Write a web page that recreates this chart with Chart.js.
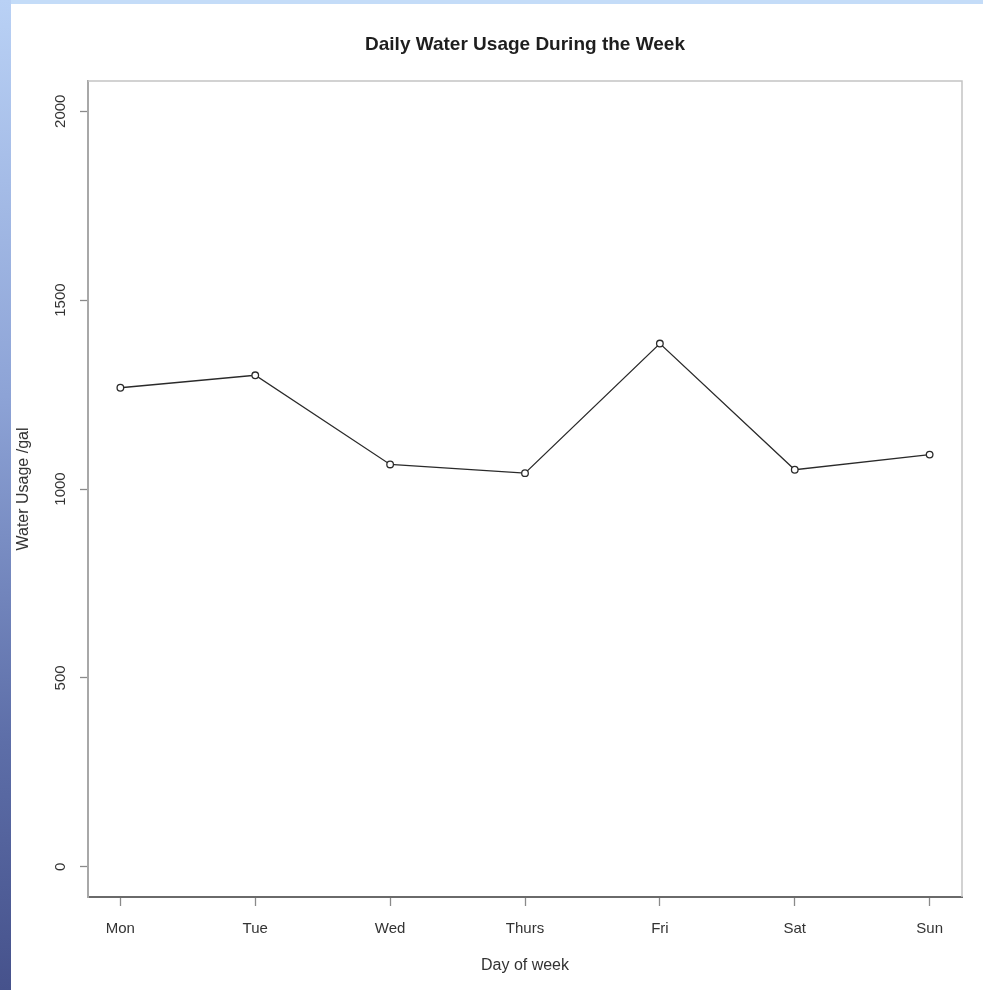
<!DOCTYPE html>
<html>
<head>
<meta charset="utf-8">
<script src="https://cdn.jsdelivr.net/npm/chart.js@4"></script>
<style>
  html, body { margin: 0; padding: 0; width: 983px; height: 990px; overflow: hidden; background: #ffffff; }
  #topstrip { position: absolute; left: 0; top: 0; width: 983px; height: 4px; background: #c4dcf8; }
  #leftstrip { position: absolute; left: 0; top: 0; width: 11px; height: 990px; background: linear-gradient(#b9d1f5, #8da3d6 40%, #5d6ea8 75%, #46528c); }
  #wrap { position: absolute; left: 11px; top: 4px; width: 972px; height: 986px; background: #ffffff; }
</style>
</head>
<body>
<div id="topstrip"></div>
<div id="leftstrip"></div>
<div id="wrap"><canvas id="c" width="972" height="986"></canvas></div>
<script>
const chartTitle = 'Daily Water Usage During the Week';
const days = ["Mon", "Tue", "Wed", "Thurs", "Fri", "Sat", "Sun"];
const usage = [1268, 1301, 1065, 1042, 1385, 1051, 1091];
const yTicks = [0, 500, 1000, 1500, 2000];

const FONT = "'Liberation Sans', Arial, Helvetica, sans-serif";

const boxPlugin = {
  id: 'rbox',
  afterDraw(chart) {
    const {ctx, chartArea: a} = chart;
    const ys = chart.scales.y;
    ctx.save();
    ctx.strokeStyle = '#c4c4c4';
    ctx.lineWidth = 1.5;
    ctx.beginPath();
    ctx.moveTo(a.left, a.top);
    ctx.lineTo(a.right, a.top);
    ctx.lineTo(a.right, a.bottom);
    ctx.stroke();
    // y tick labels, parallel to the axis as R draws them
    ctx.fillStyle = '#333333';
    ctx.font = '15px ' + FONT;
    ctx.textAlign = 'center';
    ctx.textBaseline = 'middle';
    ys.ticks.forEach(t => {
      const py = ys.getPixelForValue(t.value);
      ctx.save();
      ctx.translate(a.left - 27, py);
      ctx.rotate(-Math.PI / 2);
      ctx.fillText(String(t.value), 0, 0);
      ctx.restore();
    });
    // main title centred over the plot region, as R does
    ctx.fillStyle = '#1e1e1e';
    ctx.font = 'bold 19px ' + FONT;
    ctx.fillText(chartTitle, (a.left + a.right) / 2, 41);
    ctx.restore();
  }
};

new Chart(document.getElementById('c'), {
  type: 'line',
  data: {
    datasets: [{
      data: days.map((d, i) => ({x: i + 1, y: usage[i]})),
      borderColor: '#2a2a2a',
      borderWidth: 1.3,
      pointRadius: 3.3,
      pointBorderWidth: 1.3,
      pointBackgroundColor: '#ffffff',
      pointBorderColor: '#2a2a2a',
      tension: 0,
      fill: false
    }]
  },
  options: {
    responsive: false,
    animation: false,
    layout: { padding: { left: 0, right: 21, top: 77, bottom: 0 } },
    plugins: {
      legend: { display: false },
      tooltip: { enabled: false },
      title: { display: false }
    },
    scales: {
      x: {
        type: 'linear',
        min: 0.76,
        max: 7.24,
        afterBuildTicks(scale) { scale.ticks = days.map((d, i) => ({value: i + 1})); },
        afterFit(scale) { scale.height = 93; },
        ticks: {
          callback: (v) => days[Math.round(v) - 1],
          color: '#333333',
          font: { family: FONT, size: 15 },
          padding: 14,
          maxRotation: 0,
          autoSkip: false
        },
        grid: { drawOnChartArea: false, drawTicks: true, tickLength: 9, color: '#8a8a8a', tickWidth: 1.3 },
        border: { display: true, color: '#6a6a6a', width: 2 },
        title: {
          display: true,
          text: 'Day of week',
          color: '#333333',
          font: { family: FONT, size: 16 },
          padding: { top: 0, bottom: 15 }
        }
      },
      y: {
        min: -80,
        max: 2080,
        afterBuildTicks(scale) { scale.ticks = yTicks.map(v => ({value: v})); },
        afterFit(scale) { scale.width = 77; },
        ticks: { display: false },
        grid: { drawOnChartArea: false, drawTicks: true, tickLength: 8, color: '#8a8a8a', tickWidth: 1.3 },
        border: { display: true, color: '#a8a8a8', width: 2 },
        title: {
          display: true,
          text: 'Water Usage /gal',
          color: '#333333',
          font: { family: FONT, size: 16 },
          padding: { top: 3, bottom: 0 }
        }
      }
    }
  },
  plugins: [boxPlugin]
});
</script>
</body>
</html>
